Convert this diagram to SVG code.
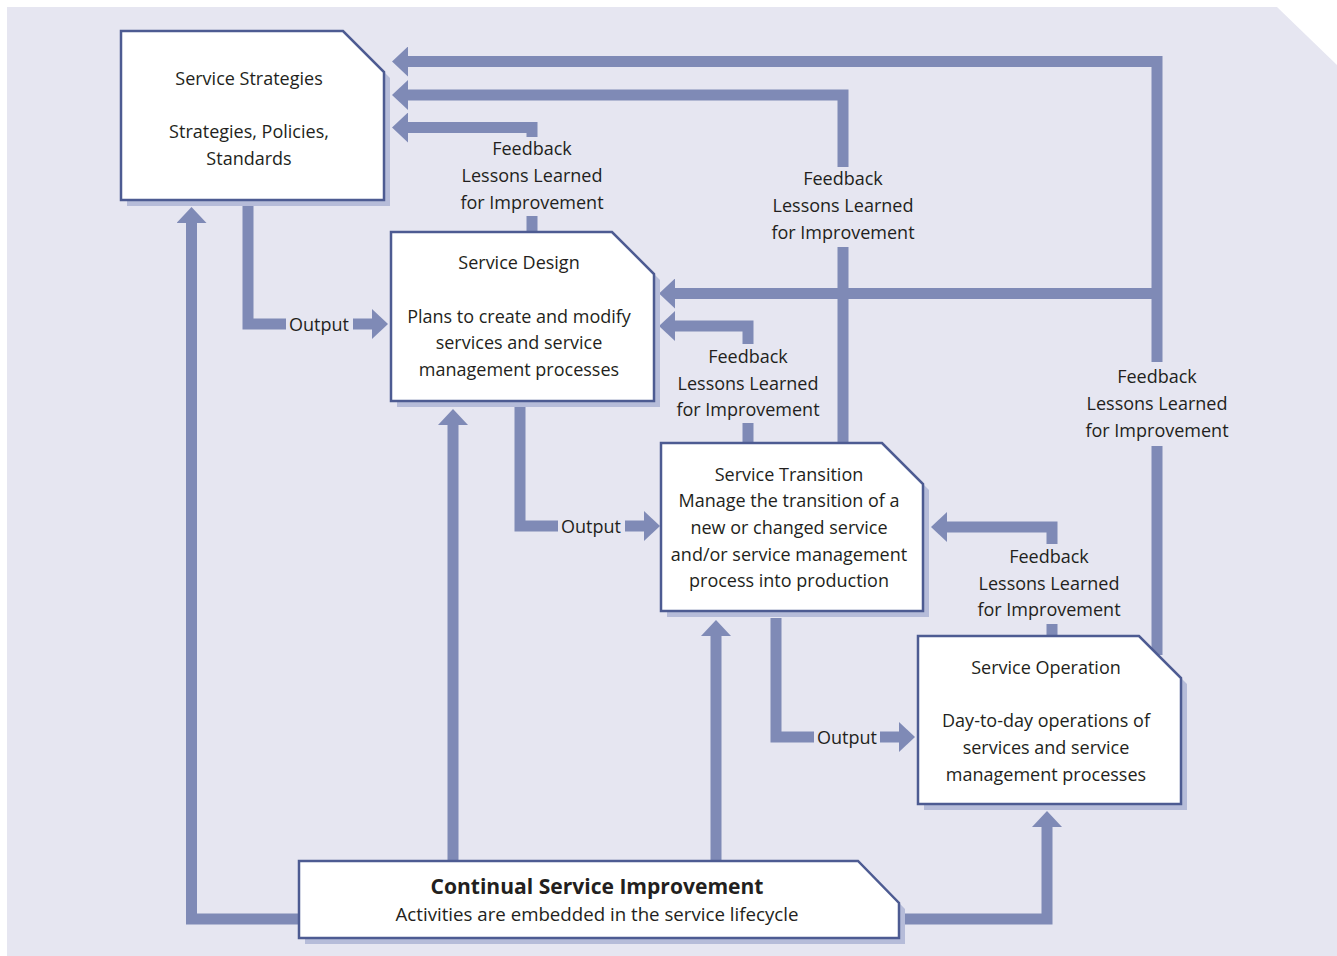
<svg xmlns="http://www.w3.org/2000/svg" width="1337" height="956" viewBox="0 0 1337 956">
  <defs>
    <style>
      .bg { fill: #e6e6f1; }
      .shadow { fill: #b6bcd9; }
      .box { fill: #ffffff; stroke: #4d5b92; stroke-width: 2.5; stroke-linejoin: miter; }
      .flow { fill: none; stroke: #7f8ab6; stroke-width: 11; stroke-linejoin: miter; stroke-linecap: butt; }
      .arrow { fill: none; stroke: #7f8ab6; stroke-width: 11; stroke-linecap: butt; marker-end: url(#head); }
      text { font-family: "Open Sans", "Liberation Sans", sans-serif; font-size: 18px; fill: #231f20; text-anchor: middle; }
      .title { font-weight: bold; font-size: 21px; }
    </style>
    <marker id="head" viewBox="0 0 16 30" refX="0" refY="15" markerWidth="16" markerHeight="30" markerUnits="userSpaceOnUse" orient="auto">
      <path d="M0,0 L16,15 L0,30 Z" fill="#7f8ab6"/>
    </marker>
  </defs>

  <!-- panel -->
  <polygon class="bg" points="7,7 1277,7 1337,65 1337,956 7,956"/>

  <!-- connectors -->
  <g id="connectors">
    <!-- outputs -->
    <path class="flow" d="M248,206 V324 H286"/>
    <path class="arrow" d="M353,324 H372"/>
    <path class="flow" d="M520,407 V526 H558"/>
    <path class="arrow" d="M625,526 H644"/>
    <path class="flow" d="M776,618 V737 H814"/>
    <path class="arrow" d="M880,737 H899"/>

    <!-- feedback: design to strategies -->
    <path class="flow" d="M532,238 V216"/>
    <path class="arrow" d="M532,137 V127.5 H408"/>
    <!-- feedback: transition to strategies -->
    <path class="flow" d="M843,449 V247"/>
    <path class="arrow" d="M843,167 V95 H408"/>
    <!-- feedback: transition to design -->
    <path class="flow" d="M748,449 V423"/>
    <path class="arrow" d="M748,344 V326 H675"/>
    <!-- feedback: operation to strategies and design -->
    <path class="flow" d="M1157,655 V446"/>
    <path class="arrow" d="M1157,362 V61.5 H408"/>
    <path class="arrow" d="M1157,293.5 H675"/>
    <!-- feedback: operation to transition -->
    <path class="flow" d="M1052,642 V624"/>
    <path class="arrow" d="M1052,544 V527 H947"/>

    <!-- continual service improvement -->
    <path class="arrow" d="M305,919 H191.5 V223"/>
    <path class="arrow" d="M453,866 V425"/>
    <path class="arrow" d="M716,866 V636"/>
    <path class="arrow" d="M893,919 H1047 V827"/>

    <!-- connector labels -->
    <text x="319" y="331">Output</text>
    <text x="591" y="533">Output</text>
    <text x="847" y="744">Output</text>

    <text x="532" y="155">Feedback</text>
    <text x="532" y="182">Lessons Learned</text>
    <text x="532" y="209">for Improvement</text>

    <text x="843" y="185">Feedback</text>
    <text x="843" y="212">Lessons Learned</text>
    <text x="843" y="239">for Improvement</text>

    <text x="748" y="363">Feedback</text>
    <text x="748" y="390">Lessons Learned</text>
    <text x="748" y="416">for Improvement</text>

    <text x="1157" y="383">Feedback</text>
    <text x="1157" y="410">Lessons Learned</text>
    <text x="1157" y="437">for Improvement</text>

    <text x="1049" y="563">Feedback</text>
    <text x="1049" y="590">Lessons Learned</text>
    <text x="1049" y="616">for Improvement</text>
  </g>

  <!-- stages -->
  <g id="service-strategies">
    <polygon class="shadow" points="127,37 349,37 390,78 390,206 127,206"/>
    <polygon class="box" points="121,31 343,31 384,72 384,200 121,200"/>
    <text x="249" y="85">Service Strategies</text>
    <text x="249" y="138">Strategies, Policies,</text>
    <text x="249" y="165">Standards</text>
  </g>

  <g id="service-design">
    <polygon class="shadow" points="397,238 618,238 660,280 660,407 397,407"/>
    <polygon class="box" points="391,232 612,232 654,274 654,401 391,401"/>
    <text x="519" y="269">Service Design</text>
    <text x="519" y="323">Plans to create and modify</text>
    <text x="519" y="349">services and service</text>
    <text x="519" y="376">management processes</text>
  </g>

  <g id="service-transition">
    <polygon class="shadow" points="667,449 888,449 929,490 929,617 667,617"/>
    <polygon class="box" points="661,443 882,443 923,484 923,611 661,611"/>
    <text x="789" y="481">Service Transition</text>
    <text x="789" y="507">Manage the transition of a</text>
    <text x="789" y="534">new or changed service</text>
    <text x="789" y="561">and/or service management</text>
    <text x="789" y="587">process into production</text>
  </g>

  <g id="service-operation">
    <polygon class="shadow" points="924,642 1145,642 1187,684 1187,810 924,810"/>
    <polygon class="box" points="918,636 1139,636 1181,678 1181,804 918,804"/>
    <text x="1046" y="674">Service Operation</text>
    <text x="1046" y="727">Day-to-day operations of</text>
    <text x="1046" y="754">services and service</text>
    <text x="1046" y="781">management processes</text>
  </g>

  <g id="continual-service-improvement">
    <polygon class="shadow" points="305,867 864,867 905,909 905,944 305,944"/>
    <polygon class="box" points="299,861 858,861 899,903 899,938 299,938"/>
    <text class="title" x="597" y="894" textLength="333" lengthAdjust="spacingAndGlyphs">Continual Service Improvement</text>
    <text x="597" y="921" textLength="403" lengthAdjust="spacingAndGlyphs">Activities are embedded in the service lifecycle</text>
  </g>
</svg>
